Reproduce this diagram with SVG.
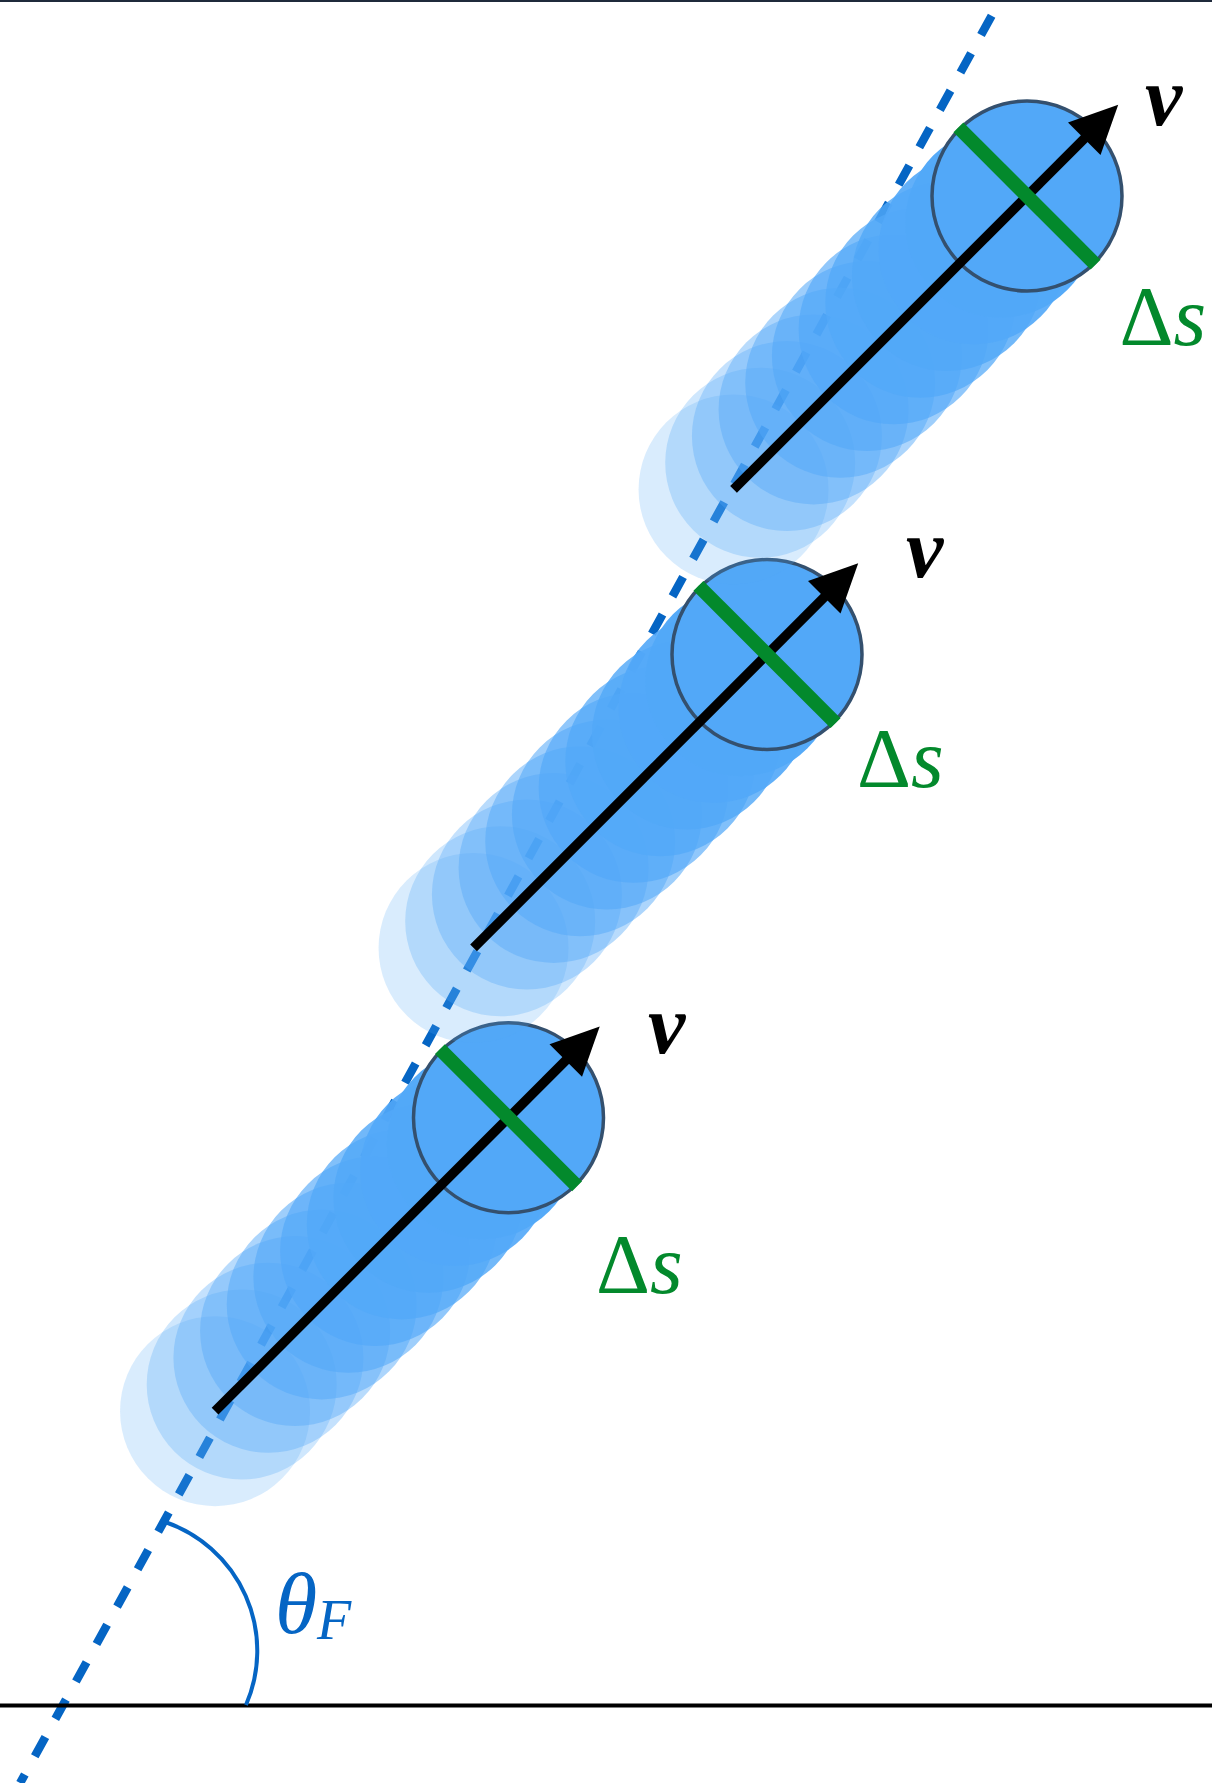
<svg xmlns="http://www.w3.org/2000/svg" xmlns:xlink="http://www.w3.org/1999/xlink" width="1212" height="1783" viewBox="0 0 1212 1783">
<style>
.t{fill:#52a8f8}
.main{fill:#52a8f8;stroke:#34506e;stroke-width:3.5}
.arrow{stroke:#000;stroke-width:9.5;fill:none}
.green{stroke:#03892c;stroke-width:14}
.v{font-family:"Liberation Serif",serif;font-size:84px;font-weight:bold;font-style:italic;fill:#000}
.ds{font-family:"Liberation Serif",serif;font-size:84px;fill:#03892c}
.blue{font-family:"Liberation Serif",serif;fill:#0565c4}
</style>
<defs>
<g id="body">
<circle class="t" cx="-415" cy="0" r="95" fill-opacity="0.22"/>
<circle class="t" cx="-377.3" cy="0" r="95" fill-opacity="0.28"/>
<circle class="t" cx="-339.5" cy="0" r="95" fill-opacity="0.34"/>
<circle class="t" cx="-301.8" cy="0" r="95" fill-opacity="0.41"/>
<circle class="t" cx="-264.1" cy="0" r="95" fill-opacity="0.48"/>
<circle class="t" cx="-226.4" cy="0" r="95" fill-opacity="0.56"/>
<circle class="t" cx="-188.6" cy="0" r="95" fill-opacity="0.64"/>
<circle class="t" cx="-150.9" cy="0" r="95" fill-opacity="0.73"/>
<circle class="t" cx="-113.2" cy="0" r="95" fill-opacity="0.82"/>
<circle class="t" cx="-75.5" cy="0" r="95" fill-opacity="0.91"/>
<circle class="t" cx="-37.7" cy="0" r="95" fill-opacity="0.98"/>
<circle class="main" cx="0" cy="0" r="95"/>
<line class="arrow" x1="-415" y1="0" x2="86" y2="0"/>
<polygon points="129,0 81,-23 81,23" fill="#000"/>
<line class="green" x1="0" y1="-97" x2="0" y2="97"/>
</g>
</defs>
<rect x="0" y="0" width="1212" height="1783" fill="#fff"/>
<rect x="0" y="0" width="1212" height="2" fill="#1f2a3b"/>
<g id="connectors">
<path d="M1000.3 0 L20.1 1783" stroke="#0565c4" stroke-width="8.5" stroke-dasharray="22 20.7" stroke-dashoffset="-18" fill="none"/>
<line x1="0" y1="1705.5" x2="1212" y2="1705.5" stroke="#000" stroke-width="4"/>
<path d="M165 1522 A136 136 0 0 1 246 1705" stroke="#0565c4" stroke-width="4" fill="none"/>
</g>
<g id="body-bottom">
<use xlink:href="#body" transform="translate(508.5 1117.7) rotate(-45)"/>
<text class="v" x="648" y="1053">v</text>
<text class="ds" x="596" y="1293">Δ<tspan font-style="italic">s</tspan></text>
</g>
<g id="body-middle">
<use xlink:href="#body" transform="translate(767 654.5) rotate(-45)"/>
<text class="v" x="906" y="577">v</text>
<text class="ds" x="857" y="787">Δ<tspan font-style="italic">s</tspan></text>
</g>
<g id="body-top">
<use xlink:href="#body" transform="translate(1027 196) rotate(-45)"/>
<text class="v" x="1145" y="125">v</text>
<text class="ds" x="1119.5" y="345">Δ<tspan font-style="italic">s</tspan></text>
</g>
<g id="angle-label">
<text class="blue" x="275" y="1633" font-size="86" font-style="italic">θ</text>
<text class="blue" x="317" y="1639" font-size="56" font-style="italic">F</text>
</g>
</svg>
